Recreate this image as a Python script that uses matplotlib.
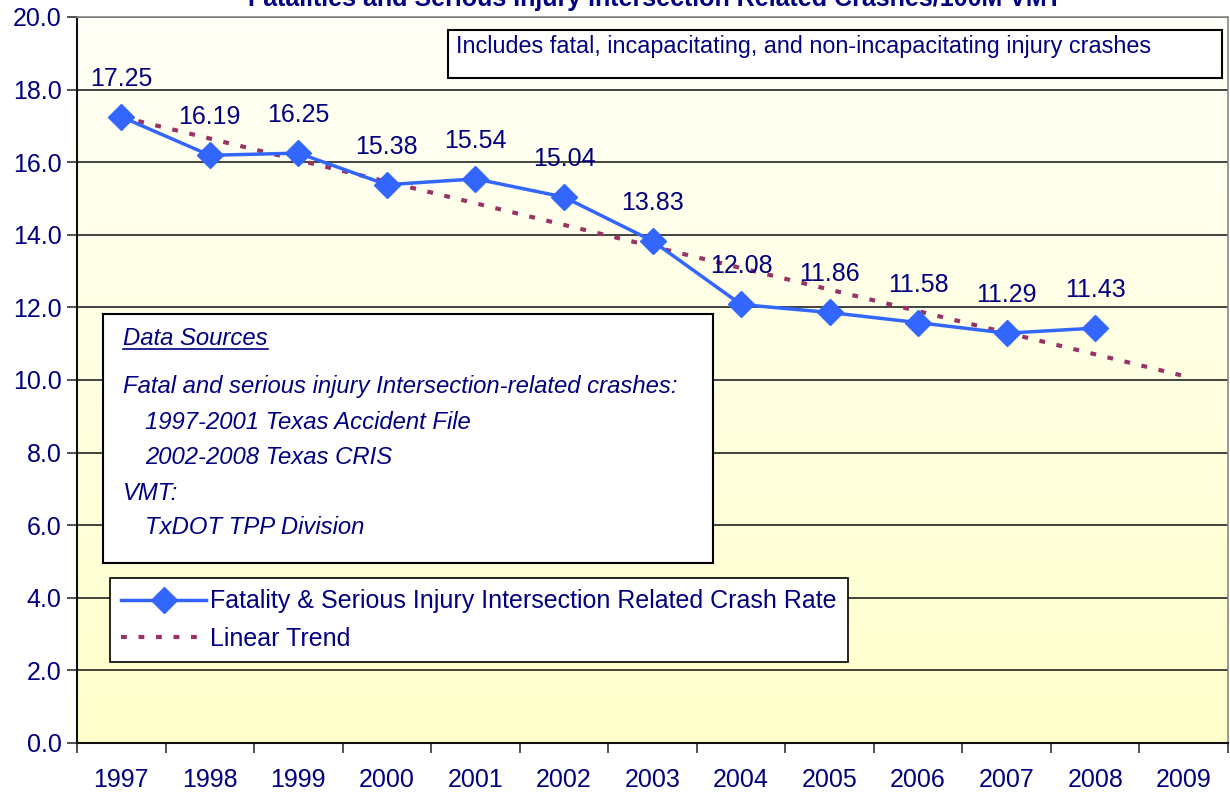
import numpy as np
import matplotlib.pyplot as plt
from matplotlib.patches import Rectangle
from matplotlib.lines import Line2D

plt.rcParams['font.family'] = ['Liberation Sans', 'DejaVu Sans']

years = ['1997', '1998', '1999', '2000', '2001', '2002', '2003',
         '2004', '2005', '2006', '2007', '2008', '2009']
rate = [17.25, 16.19, 16.25, 15.38, 15.54, 15.04, 13.83,
        12.08, 11.86, 11.58, 11.29, 11.43]

navy = '#000080'
W, H = 1230, 797

fig = plt.figure(figsize=(12.3, 7.97), dpi=100)
ax = fig.add_axes([77 / W, 54 / H, 1151 / W, 726 / H])


def px(x, y):
    # pixel position (from top-left) -> figure fraction
    return x / W, 1 - y / H


# background gradient, white at top to pale yellow at bottom
t = np.linspace(0, 1, 256)[:, None, None]
top = np.array([1.0, 1.0, 0.97])
bot = np.array([1.0, 1.0, 0.80])
img = np.ones((256, 2, 3)) * (top + (bot - top) * t)
ax.imshow(img, aspect='auto', extent=[-0.5, 12.5, 0, 20], zorder=0)

x = np.arange(len(rate))
ax.plot(x, rate, color='#3366FF', lw=2.5, marker='D', ms=13,
        label='Fatality & Serious Injury Intersection Related Crash Rate', zorder=4)

# linear trend fitted to the data and extended to 2009
coef = np.polyfit(x, rate, 1)
xt = np.arange(len(years))
ax.plot(xt, np.polyval(coef, xt), color='#993366', lw=3,
        linestyle=(0, (1.4, 2.8)), label='Linear Trend', zorder=3)

for xi, v in zip(x, rate):
    ax.annotate(f'{v:.2f}', (xi, v), xytext=(0, 38), textcoords='offset pixels',
                ha='center', va='center', fontsize=18, color=navy, zorder=5)

ax.set_xlim(-0.5, 12.5)
ax.set_ylim(0, 20)
ax.set_yticks(np.arange(0, 20.1, 2))
ax.set_yticklabels([f'{v:.1f}' for v in np.arange(0, 20.1, 2)])
ax.set_xticks(np.arange(len(years)))
ax.set_xticklabels(years)
ax.set_xticks(np.arange(-0.5, 12.6, 1), minor=True)
ax.tick_params(axis='x', which='major', length=0, pad=18, labelsize=18, labelcolor=navy)
ax.tick_params(axis='x', which='minor', length=7, width=1.2, color='#333333')
ax.tick_params(axis='y', length=7, width=1.2, color='#333333', labelsize=18,
               labelcolor=navy, pad=4)
ax.yaxis.grid(True, color='#222222', lw=1.2)
for gl in ax.get_ygridlines():
    gl.set_zorder(1)
for s in ['left', 'bottom']:
    ax.spines[s].set_color('#111111')
    ax.spines[s].set_linewidth(1.5)
for s in ['top', 'right']:
    ax.spines[s].set_color('#888888')
    ax.spines[s].set_linewidth(1.2)

leg = ax.legend(loc='upper left', bbox_to_anchor=px(110, 578),
                bbox_transform=fig.transFigure, fontsize=18, frameon=True,
                fancybox=False, edgecolor='black', framealpha=1,
                borderpad=0.45, labelspacing=0.55, handlelength=3.4,
                handletextpad=0.15, borderaxespad=0)
leg.get_frame().set_linewidth(1.2)
for tx in leg.get_texts():
    tx.set_color(navy)

# note box at top right
x0, y0 = px(448, 78)
x1, y1 = px(1222, 30)
fig.patches.append(Rectangle((x0, y0), x1 - x0, y1 - y0, transform=fig.transFigure,
                             facecolor='white', edgecolor='black', lw=1.5, zorder=6))
fig.text(*px(456, 47), 'Includes fatal, incapacitating, and non-incapacitating injury crashes',
         fontsize=16.8, color=navy, va='center', ha='left', zorder=7)

# data sources box
x0, y0 = px(103, 563)
x1, y1 = px(713, 314)
fig.patches.append(Rectangle((x0, y0), x1 - x0, y1 - y0, transform=fig.transFigure,
                             facecolor='white', edgecolor='black', lw=1.5, zorder=6))
src_lines = [
    (123, 339, 'Data Sources'),
    (123, 387, 'Fatal and serious injury Intersection-related crashes:'),
    (145, 422, '1997-2001 Texas Accident File'),
    (145, 457, '2002-2008 Texas CRIS'),
    (123, 493, 'VMT:'),
    (145, 528, 'TxDOT TPP Division'),
]
src_texts = []
for sx, sy, s in src_lines:
    src_texts.append(fig.text(*px(sx, sy), s, fontsize=17.2, style='italic', color=navy,
                              va='center', ha='left', zorder=7))

# underline the heading
fig.canvas.draw()
bb = src_texts[0].get_window_extent()
uy = bb.y0 + 1
fig.add_artist(Line2D([bb.x0 / W, bb.x1 / W], [uy / H, uy / H], transform=fig.transFigure,
                      color=navy, lw=1.2, zorder=8))

# title, mostly cut off by the top edge as in the source image
fig.text(*px(655, 6), 'Fatalities and Serious Injury Intersection Related Crashes/100M VMT',
         fontsize=18, fontweight='bold', color=navy, ha='center', va='baseline')

fig.savefig('out.png', dpi=100)
